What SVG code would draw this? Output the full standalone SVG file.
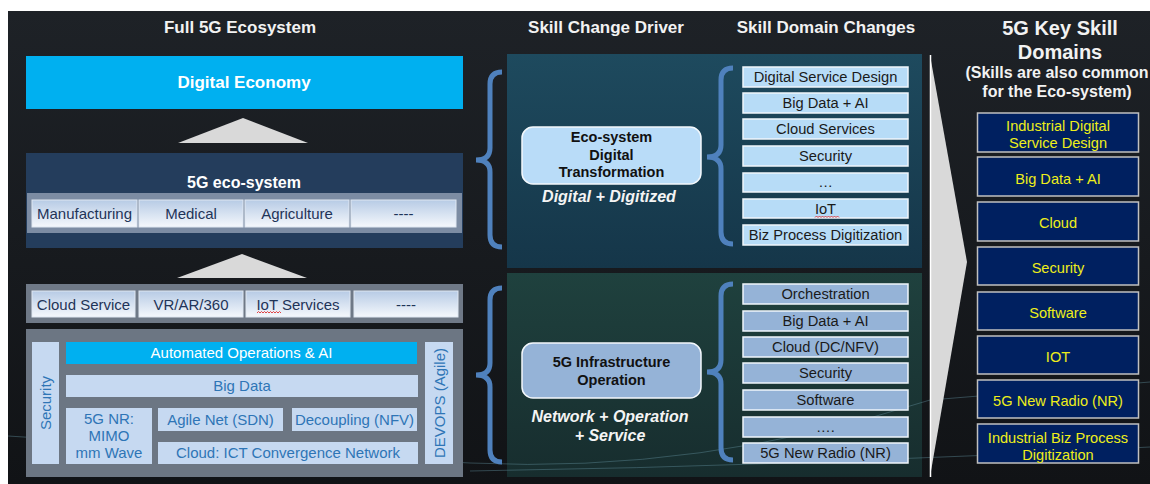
<svg xmlns="http://www.w3.org/2000/svg" width="1150" height="484" viewBox="0 0 1150 484">
  <defs>
    <linearGradient id="bg" x1="0" y1="0" x2="0" y2="1">
      <stop offset="0" stop-color="#1e2227"/>
      <stop offset="1" stop-color="#111316"/>
    </linearGradient>
    <linearGradient id="cell" x1="0" y1="0" x2="0" y2="1">
      <stop offset="0" stop-color="#b7cbe5"/>
      <stop offset="1" stop-color="#f5f8fc"/>
    </linearGradient>
    <linearGradient id="panelTop" x1="0" y1="0" x2="0" y2="1">
      <stop offset="0" stop-color="#1e4a5e"/>
      <stop offset="1" stop-color="#153649"/>
    </linearGradient>
    <linearGradient id="panelBot" x1="0" y1="0" x2="0" y2="1">
      <stop offset="0" stop-color="#1f413e"/>
      <stop offset="1" stop-color="#172d2e"/>
    </linearGradient>
  </defs>
  <style>
    text { font-family: "Liberation Sans", Arial, sans-serif; }
    .title { font-size: 17px; font-weight: bold; fill: #f2f2f2; text-anchor: middle; }
    .big { font-size: 20px; font-weight: bold; fill: #f2f2f2; text-anchor: middle; }
    .sub { font-size: 16px; font-weight: bold; fill: #f2f2f2; text-anchor: middle; }
    .cell { fill: url(#cell); stroke: #dfe7f2; stroke-width: 1; }
    .celltxt { font-size: 15px; fill: #1f3458; text-anchor: middle; }
    .lite { fill: #c6d9f1; }
    .litetxt { font-size: 15px; fill: #2e75b6; text-anchor: middle; }
    .skillA { fill: #b7dcf7; stroke: #f0f6fc; stroke-width: 1.5; }
    .skillB { fill: #95b3d7; stroke: #f0f6fc; stroke-width: 1.5; }
    .skilltxt { font-size: 14.7px; fill: #1a1a1a; text-anchor: middle; }
    .drv { stroke: #f4f8fc; stroke-width: 1.5; }
    .drvtxt { font-size: 14.5px; font-weight: bold; fill: #111; text-anchor: middle; }
    .ital { font-size: 16px; font-weight: bold; font-style: italic; fill: #f4f4f4; text-anchor: middle; }
    .key { fill: #002060; stroke: #c0c0c0; stroke-width: 1.5; }
    .keytxt { font-size: 14.6px; fill: #eeee1a; text-anchor: middle; }
    .brace { fill: none; stroke: #4f81bd; stroke-width: 5; }
    .arrow { fill: #d9d9d9; }
    .squiggle { fill: none; stroke: #e03030; stroke-width: 0.9; }
    .deco { fill: none; stroke: #5d8a96; stroke-width: 1; opacity: 0.45; }
  </style>

  <!-- canvas -->
  <rect x="0" y="0" width="1150" height="484" fill="#ffffff"/>
  <rect x="8" y="11" width="1142" height="473" fill="url(#bg)"/>

  <!-- column headings -->
  <g id="headings">
    <text class="title" x="240" y="33">Full 5G Ecosystem</text>
    <text class="title" x="606" y="33">Skill Change Driver</text>
    <text class="title" x="826" y="33">Skill Domain Changes</text>
    <text class="big" x="1060" y="35">5G Key Skill</text>
    <text class="big" x="1060" y="59">Domains</text>
    <text class="sub" x="1057" y="78">(Skills are also common</text>
    <text class="sub" x="1057" y="97">for the Eco-system)</text>
  </g>

  <!-- driver panels -->
  <g id="panel-transformation">
    <rect x="507" y="54" width="415" height="214" fill="url(#panelTop)"/>
  </g>
  <g id="panel-infrastructure">
    <rect x="507" y="273" width="415" height="204" fill="url(#panelBot)"/>
  </g>

  <!-- faint background streaks -->
  <path class="deco" d="M8,436 Q240,452 470,463 T930,400 L1150,382"/>
  <path class="deco" d="M470,471 Q800,466 1150,447"/>

  <!-- ecosystem stack -->
  <g id="digital-economy">
    <rect x="26" y="56" width="437" height="53" fill="#00b0f0"/>
    <text x="244" y="88" font-size="17" font-weight="bold" fill="#ffffff" text-anchor="middle">Digital Economy</text>
  </g>

  <g id="eco-system">
    <rect x="26" y="153" width="437" height="95" fill="#243d5c"/>
    <text x="244" y="188" font-size="16" font-weight="bold" fill="#ffffff" text-anchor="middle">5G eco-system</text>
    <rect x="27" y="193" width="435" height="40" fill="#7c8ca3"/>
    <rect class="cell" x="32" y="200" width="105" height="27"/>
    <rect class="cell" x="139" y="200" width="104" height="27"/>
    <rect class="cell" x="245" y="200" width="104" height="27"/>
    <rect class="cell" x="351" y="200" width="105" height="27"/>
    <text class="celltxt" x="84.5" y="219">Manufacturing</text>
    <text class="celltxt" x="191" y="219">Medical</text>
    <text class="celltxt" x="297" y="219">Agriculture</text>
    <text class="celltxt" x="403.5" y="219">----</text>
  </g>

  <g id="services">
    <rect x="26" y="284" width="437" height="39" fill="#6f7987"/>
    <rect class="cell" x="32" y="291" width="103" height="26"/>
    <rect class="cell" x="139" y="291" width="104" height="26"/>
    <rect class="cell" x="246" y="291" width="104" height="26"/>
    <rect class="cell" x="354" y="291" width="104" height="26"/>
    <text class="celltxt" x="83.5" y="309.5">Cloud Service</text>
    <text class="celltxt" x="191" y="309.5">VR/AR/360</text>
    <text class="celltxt" x="298" y="309.5">IoT Services</text>
    <text class="celltxt" x="406" y="309.5">----</text>
    <path class="squiggle" d="M257,313 l1.5,-1.5 l1.5,1.5 l1.5,-1.5 l1.5,1.5 l1.5,-1.5 l1.5,1.5 l1.5,-1.5 l1.5,1.5 l1.5,-1.5 l1.5,1.5 l1.5,-1.5 l1.5,1.5 l1.5,-1.5 l1.5,1.5 l1.5,-1.5 l1.5,1.5"/>
  </g>

  <g id="infrastructure">
    <rect x="26" y="329" width="437" height="148" fill="#6c7683"/>
    <rect class="lite" x="32" y="342" width="27" height="122"/>
    <text class="litetxt" transform="translate(45,403) rotate(-90)" x="0" y="5.5">Security</text>
    <rect x="66" y="342" width="351" height="22" fill="#00b0f0"/>
    <text x="241.5" y="358" font-size="15" fill="#ffffff" text-anchor="middle">Automated Operations &amp; AI</text>
    <rect class="lite" x="66" y="375" width="352" height="22"/>
    <text class="litetxt" x="242" y="391">Big Data</text>
    <rect class="lite" x="66" y="408" width="86" height="56"/>
    <text class="litetxt" x="109" y="424">5G NR:</text>
    <text class="litetxt" x="109" y="441">MIMO</text>
    <text class="litetxt" x="109" y="458">mm Wave</text>
    <rect class="lite" x="158" y="408" width="125" height="23"/>
    <text class="litetxt" x="220.5" y="424.5">Agile Net (SDN)</text>
    <rect class="lite" x="292" y="408" width="125" height="23"/>
    <text class="litetxt" x="354.5" y="424.5">Decoupling (NFV)</text>
    <rect class="lite" x="158" y="442" width="260" height="22"/>
    <text class="litetxt" x="288" y="458">Cloud: ICT Convergence Network</text>
    <rect class="lite" x="425" y="342" width="28" height="122"/>
    <text class="litetxt" transform="translate(439,403) rotate(-90)" x="0" y="5.5">DEVOPS (Agile)</text>
  </g>

  <!-- drivers -->
  <g id="driver-digital">
    <rect class="drv" x="522" y="127" width="179" height="57" rx="11" fill="#b9dcf8"/>
    <text class="drvtxt" x="611.5" y="142">Eco-system</text>
    <text class="drvtxt" x="611.5" y="159.5">Digital</text>
    <text class="drvtxt" x="611.5" y="177">Transformation</text>
    <text class="ital" x="609" y="202">Digital + Digitized</text>
  </g>

  <g id="driver-infra">
    <rect class="drv" x="522" y="343" width="179" height="55" rx="11" fill="#95b3d7"/>
    <text class="drvtxt" x="611.5" y="367">5G Infrastructure</text>
    <text class="drvtxt" x="611.5" y="384.5">Operation</text>
    <text class="ital" x="610" y="422">Network + Operation</text>
    <text class="ital" x="610" y="441">+ Service</text>
  </g>

  <!-- skill domain changes: transformation -->
  <g id="changes-transformation">
    <rect class="skillA" x="743" y="67" width="165" height="20"/>
    <rect class="skillA" x="743" y="93" width="165" height="20"/>
    <rect class="skillA" x="743" y="119" width="165" height="20"/>
    <rect class="skillA" x="743" y="146" width="165" height="20"/>
    <rect class="skillA" x="743" y="173" width="165" height="19"/>
    <rect class="skillA" x="743" y="199" width="165" height="19"/>
    <rect class="skillA" x="743" y="225" width="165" height="20"/>
    <text class="skilltxt" x="825.5" y="82">Digital Service Design</text>
    <text class="skilltxt" x="825.5" y="108">Big Data + AI</text>
    <text class="skilltxt" x="825.5" y="134">Cloud Services</text>
    <text class="skilltxt" x="825.5" y="161">Security</text>
    <text class="skilltxt" x="825.5" y="187" font-size="11">…</text>
    <text class="skilltxt" x="825.5" y="214">IoT</text>
    <text class="skilltxt" x="825.5" y="240">Biz Process Digitization</text>
    <path class="squiggle" d="M815,217.5 l1.5,-1.5 l1.5,1.5 l1.5,-1.5 l1.5,1.5 l1.5,-1.5 l1.5,1.5 l1.5,-1.5 l1.5,1.5 l1.5,-1.5 l1.5,1.5 l1.5,-1.5 l1.5,1.5 l1.5,-1.5 l1.5,1.5 l1.5,-1.5 l1.5,1.5"/>
  </g>

  <!-- skill domain changes: infrastructure -->
  <g id="changes-infrastructure">
    <rect class="skillB" x="743" y="284" width="165" height="20"/>
    <rect class="skillB" x="743" y="311" width="165" height="20"/>
    <rect class="skillB" x="743" y="337" width="165" height="20"/>
    <rect class="skillB" x="743" y="363" width="165" height="20"/>
    <rect class="skillB" x="743" y="390" width="165" height="20"/>
    <rect class="skillB" x="743" y="417" width="165" height="20"/>
    <rect class="skillB" x="743" y="443" width="165" height="20"/>
    <text class="skilltxt" x="825.5" y="299">Orchestration</text>
    <text class="skilltxt" x="825.5" y="326">Big Data + AI</text>
    <text class="skilltxt" x="825.5" y="352">Cloud (DC/NFV)</text>
    <text class="skilltxt" x="825.5" y="378">Security</text>
    <text class="skilltxt" x="825.5" y="405">Software</text>
    <text class="skilltxt" x="825.5" y="432" font-size="11">….</text>
    <text class="skilltxt" x="825.5" y="458">5G New Radio (NR)</text>
  </g>

  <!-- key skill domains -->
  <g id="key-domains">
    <rect class="key" x="977.5" y="113" width="161" height="39"/>
    <rect class="key" x="977.5" y="157" width="161" height="39"/>
    <rect class="key" x="977.5" y="202" width="161" height="39"/>
    <rect class="key" x="977.5" y="247" width="161" height="38"/>
    <rect class="key" x="977.5" y="292" width="161" height="38"/>
    <rect class="key" x="977.5" y="336" width="161" height="38"/>
    <rect class="key" x="977.5" y="380" width="161" height="38"/>
    <rect class="key" x="977.5" y="424" width="161" height="39"/>
    <text class="keytxt" x="1058" y="131">Industrial Digital</text>
    <text class="keytxt" x="1058" y="148">Service Design</text>
    <text class="keytxt" x="1058" y="184">Big Data + AI</text>
    <text class="keytxt" x="1058" y="228">Cloud</text>
    <text class="keytxt" x="1058" y="273">Security</text>
    <text class="keytxt" x="1058" y="318">Software</text>
    <text class="keytxt" x="1058" y="362">IOT</text>
    <text class="keytxt" x="1058" y="406">5G New Radio (NR)</text>
    <text class="keytxt" x="1058" y="443">Industrial Biz Process</text>
    <text class="keytxt" x="1058" y="460">Digitization</text>
  </g>

  <!-- connectors: stack arrows, braces and the funnel wedge -->
  <g id="connectors">
    <polygon class="arrow" points="178,143 243,118 308,143"/>
    <polygon class="arrow" points="177,278 242,254 307,278"/>
    <path class="brace" d="M502,72 Q490,72 490,84 V148 Q490,160 476,160 Q490,160 490,172 V235 Q490,247 502,247"/>
    <path class="brace" d="M502,288 Q490,288 490,300 V363 Q490,375 476,375 Q490,375 490,387 V450 Q490,462 502,462"/>
    <path class="brace" d="M733,68 Q721,68 721,80 V145 Q721,157 707,157 Q721,157 721,169 V232 Q721,244 733,244"/>
    <path class="brace" d="M733,284 Q721,284 721,296 V360 Q721,372 707,372 Q721,372 721,384 V448 Q721,460 733,460"/>
    <polygon class="arrow" points="930,55 967,262 930,477"/>
    <line x1="930.5" y1="55" x2="930.5" y2="477" stroke="#ffffff" stroke-width="1.5"/>
  </g>
</svg>
